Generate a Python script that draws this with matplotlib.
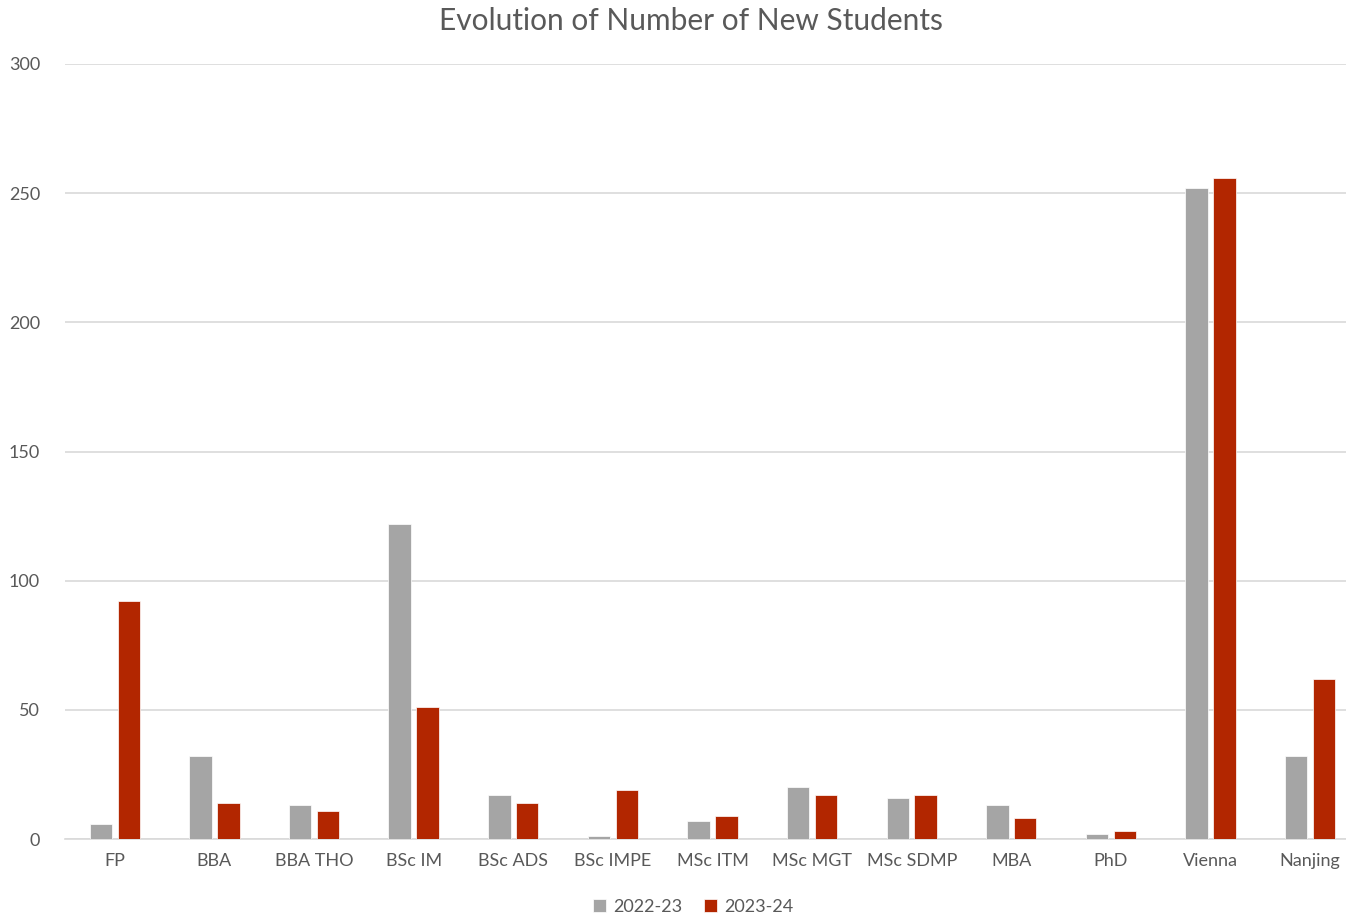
import matplotlib
matplotlib.use("Agg")
import matplotlib.pyplot as plt
import numpy as np

categories = ["FP", "BBA", "BBA THO", "BSc IM", "BSc ADS", "BSc IMPE", "MSc ITM",
              "MSc MGT", "MSc SDMP", "MBA", "PhD", "Vienna", "Nanjing"]
series_2022 = [6, 32, 13, 122, 17, 1, 7, 20, 16, 13, 2, 252, 32]
series_2023 = [92, 14, 11, 51, 14, 19, 9, 17, 17, 8, 3, 256, 62]
labels = ["2022-23", "2023-24"]
yticks = [0, 50, 100, 150, 200, 250, 300]

plt.rcParams['font.family'] = ['Lato', 'DejaVu Sans']
text_color = "#595959"

fig = plt.figure(figsize=(13.46, 9.18), dpi=100)
ax = fig.add_axes([65/1346, 1 - 839/918, 1 - 65/1346, (839 - 64)/918])

x = np.arange(len(categories))
w = 0.225
ax.bar(x - 0.14, series_2022, width=w, color="#A5A5A5", edgecolor="white", linewidth=0.5, label=labels[0], zorder=3)
ax.bar(x + 0.14, series_2023, width=w, color="#B22600", edgecolor="white", linewidth=0.5, label=labels[1], zorder=3)

ax.set_ylim(0, 300)
ax.set_xlim(-0.5, 12.36)
ax.set_yticks(yticks)
ax.set_xticks(x)
ax.set_xticklabels(categories)
ax.grid(axis="y", color="#D9D9D9", linewidth=1.2, zorder=0)
for s in ["top", "right", "left"]:
    ax.spines[s].set_visible(False)
ax.spines["bottom"].set_color("#D9D9D9")
ax.spines["bottom"].set_linewidth(1.2)
ax.tick_params(axis="both", length=0, colors=text_color, labelsize=13)
ax.tick_params(axis="y", pad=18)
ax.tick_params(axis="x", pad=10)

fig.text(0.513, 0.977, "Evolution of Number of New Students", ha="center", va="center",
         fontsize=21.5, color=text_color)

leg = fig.legend(loc="center", bbox_to_anchor=(0.515, 0.012), ncol=2, frameon=False,
                 fontsize=13, handlelength=0.7, handleheight=0.7, handletextpad=0.4,
                 columnspacing=1.2)
for t in leg.get_texts():
    t.set_color(text_color)

fig.savefig("out.png", dpi=100)
